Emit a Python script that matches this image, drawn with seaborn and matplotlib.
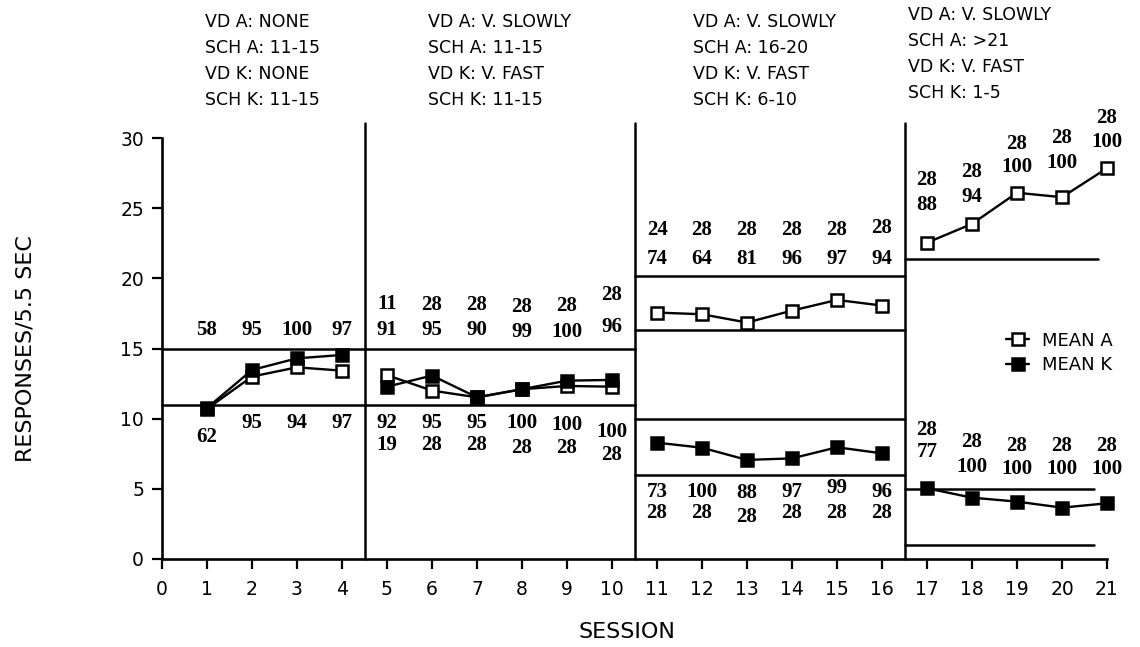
import numpy as np
import pandas as pd
import matplotlib
matplotlib.use('Agg')
import matplotlib.pyplot as plt
from matplotlib.lines import Line2D
import seaborn as sns

# session data
sessions = list(range(1, 22))
phase = [1]*4 + [2]*6 + [3]*6 + [4]*5
mean_a = [10.7, 13.0, 13.66, 13.42, 13.1, 12.0, 11.52, 12.1, 12.33, 12.28,
          17.56, 17.44, 16.85, 17.7, 18.46, 18.06,
          22.54, 23.88, 26.1, 25.78, 27.85]
mean_k = [10.76, 13.47, 14.3, 14.54, 12.28, 13.07, 11.52, 12.1, 12.71, 12.76,
          8.29, 7.93, 7.06, 7.17, 7.96, 7.53,
          5.04, 4.37, 4.09, 3.66, 3.97]

# numbers printed next to the points
a_n = ['', '', '', '', '11', '28', '28', '28', '28', '28',
       '24', '28', '28', '28', '28', '28', '28', '28', '28', '28', '28']
a_pct = ['58', '95', '100', '97', '91', '95', '90', '99', '100', '96',
         '74', '64', '81', '96', '97', '94', '88', '94', '100', '100', '100']
k_pct = ['62', '95', '94', '97', '92', '95', '95', '100', '100', '100',
         '73', '100', '88', '97', '99', '96', '77', '100', '100', '100', '100']
k_n = ['', '', '', '', '19', '28', '28', '28', '28', '28',
       '28', '28', '28', '28', '28', '28', '28', '28', '28', '28', '28']

# criterion bands: (start, end, level)
crit_start = [0, 0, 10.5, 10.5, 10.5, 10.5, 16.5, 16.5, 16.5]
crit_end = [10.5, 10.5, 16.5, 16.5, 16.5, 16.5, 20.8, 20.7, 20.7]
crit_level = [15, 11, 20.2, 16.3, 10.0, 6.0, 21.4, 5.0, 1.0]
phase_breaks = [4.5, 10.5, 16.5]

headers = [
    ['VD A: NONE', 'SCH A: 11-15', 'VD K: NONE', 'SCH K: 11-15'],
    ['VD A: V. SLOWLY', 'SCH A: 11-15', 'VD K: V. FAST', 'SCH K: 11-15'],
    ['VD A: V. SLOWLY', 'SCH A: 16-20', 'VD K: V. FAST', 'SCH K: 6-10'],
    ['VD A: V. SLOWLY', 'SCH A: >21', 'VD K: V. FAST', 'SCH K: 1-5'],
]

# layout of the printed numbers (y in data units)
a_n_y = [0, 0, 0, 0, 18.2, 18.1, 18.1, 17.95, 18.0, 18.8,
         23.45, 23.45, 23.45, 23.45, 23.45, 23.6, 27.0, 27.6, 29.6, 30.0, 31.4]
a_pct_y = [16.3, 16.3, 16.3, 16.3, 16.3, 16.3, 16.35, 16.2, 16.2, 16.55,
           21.4, 21.4, 21.4, 21.4, 21.4, 21.4, 25.2, 25.8, 27.96, 28.2, 29.75]
k_pct_y = [8.7, 9.67, 9.67, 9.67, 9.67, 9.67, 9.67, 9.67, 9.55, 9.07,
           4.8, 4.8, 4.7, 4.8, 5.04, 4.8, 7.65, 6.58, 6.39, 6.39, 6.39]
k_n_y = [0, 0, 0, 0, 8.13, 8.1, 8.1, 7.9, 7.9, 7.4,
         3.26, 3.26, 3.0, 3.26, 3.26, 3.26, 9.19, 8.36, 8.05, 8.05, 8.05]

df = pd.DataFrame({'session': sessions, 'phase': phase, 'A': mean_a, 'K': mean_k})

sns.set_style('ticks')
plt.rcParams['font.family'] = ['DejaVu Sans']
plt.rcParams['text.color'] = 'black'
plt.rcParams['axes.labelcolor'] = 'black'
plt.rcParams['xtick.color'] = 'black'
plt.rcParams['ytick.color'] = 'black'
plt.rcParams['axes.edgecolor'] = 'black'

fig = plt.figure(figsize=(11.4, 6.47), dpi=100)
ax = fig.add_axes([162/1140, 88/647, 945/1140, 421/647])

for p in [1, 2, 3, 4]:
    sub = df[df['phase'] == p]
    sns.lineplot(data=sub, x='session', y='A', ax=ax, color='black', lw=1.7,
                 marker='s', markersize=8, markerfacecolor='white',
                 markeredgecolor='black', markeredgewidth=1.8)
    sns.lineplot(data=sub, x='session', y='K', ax=ax, color='black', lw=1.7,
                 marker='s', markersize=8, markerfacecolor='black',
                 markeredgecolor='black', markeredgewidth=1.8)

for x0, x1, lv in zip(crit_start, crit_end, crit_level):
    ax.plot([x0, x1], [lv, lv], color='black', lw=1.8, zorder=1)

for b in phase_breaks:
    ax.plot([b, b], [0, 31.1], color='black', lw=1.8, clip_on=False, zorder=1)

for line in ax.lines:
    line.set_clip_on(False)

num_font = dict(family='Liberation Serif', fontweight='bold', fontsize=15,
                ha='center', va='center', color='black')
for i, s in enumerate(sessions):
    for txt, yy in [(a_n[i], a_n_y[i]), (a_pct[i], a_pct_y[i]),
                    (k_pct[i], k_pct_y[i]), (k_n[i], k_n_y[i])]:
        if txt:
            ax.text(s, yy, txt, clip_on=False, **num_font)

# condition headers
head_x = [205, 428, 693, 908]
head_top = [22, 22, 22, 15]
for hx, ht, lines in zip(head_x, head_top, headers):
    for j, t in enumerate(lines):
        fig.text(hx/1140, 1 - (ht + j*26)/647, t, fontsize=12.5,
                 ha='left', va='center', color='black', fontweight='medium')

ax.set_xlim(0, 21)
ax.set_ylim(0, 30)
ax.set_xticks(range(0, 22))
ax.set_yticks(range(0, 31, 5))
ax.tick_params(axis='both', direction='out', length=7, width=1.6,
               labelsize=13.5, color='black', labelcolor='black', pad=6)
ax.tick_params(axis='x', pad=8)
sns.despine(ax=ax)
ax.spines['left'].set_linewidth(1.9)
ax.spines['bottom'].set_linewidth(1.9)
ax.set_xlabel('SESSION', fontsize=16, color='black')
ax.set_ylabel('RESPONSES/5.5 SEC', fontsize=16, color='black')
ax.xaxis.set_label_coords(0.492, -0.15)
ax.yaxis.set_label_coords(-0.134, 0.5)

handles = [
    Line2D([], [], color='black', lw=1.7, marker='s', markersize=8,
           markerfacecolor='white', markeredgewidth=1.8),
    Line2D([], [], color='black', lw=1.7, marker='s', markersize=8,
           markerfacecolor='black', markeredgewidth=1.8),
]
leg = ax.legend(handles, ['MEAN A', 'MEAN K'], loc='upper left',
                bbox_to_anchor=(0.893, 0.54), frameon=False, fontsize=13,
                handlelength=1.3, handletextpad=0.7, borderpad=0,
                borderaxespad=0, labelspacing=0.35)
for t in leg.get_texts():
    t.set_color('black')

fig.savefig('out.png', dpi=100)
